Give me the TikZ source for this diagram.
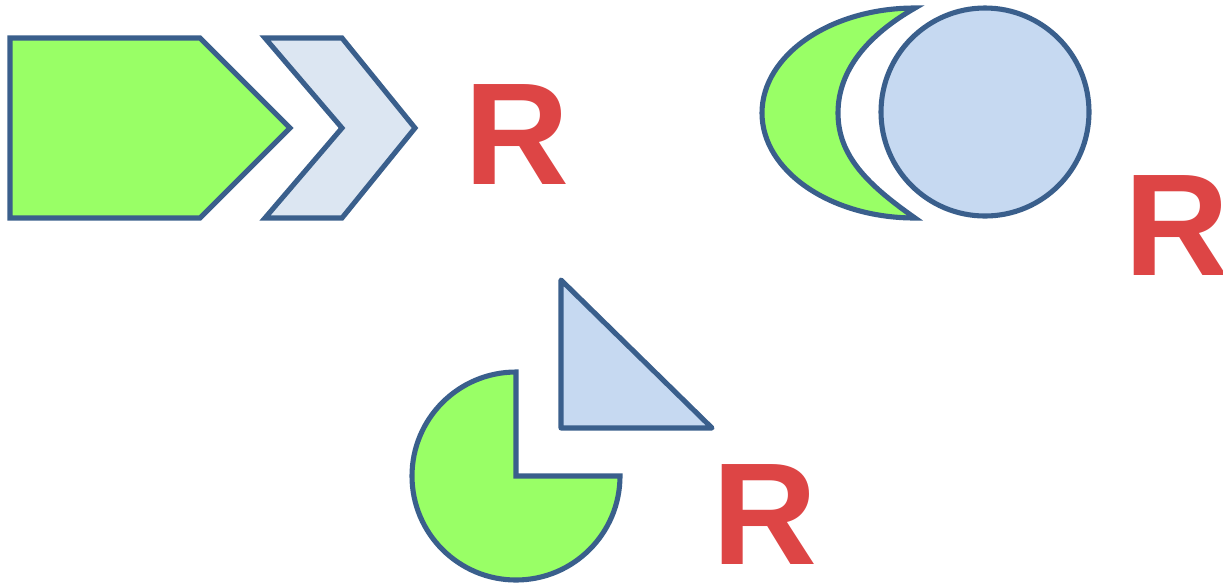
\documentclass[tikz,border=0pt]{standalone}
\usepackage{fontspec}
\usepackage{tikz}
\newfontfamily\letterfont{Liberation Sans}
\definecolor{shapeline}{HTML}{3A5F8C}
\definecolor{shapegreen}{HTML}{99FF66}
\definecolor{paleblue}{HTML}{DCE6F2}
\definecolor{lightblue}{HTML}{C6D9F1}
\definecolor{letterred}{HTML}{DD4545}

\begin{document}
\begin{tikzpicture}[x=0.02cm, y=-0.02cm,
		outline/.style={draw=shapeline, line width=2.9pt},
		bigR/.style={inner sep=0pt, text=letterred,
			font=\letterfont\bfseries\fontsize{82.7}{90}\selectfont}]
		\useasboundingbox (0,0) rectangle (1223,583);
		% pentagon and chevron
		\draw[outline, fill=shapegreen] (10,38) -- (200,38) -- (290,128) -- (200,218) -- (10,218) -- cycle;
		\draw[outline, fill=paleblue] (265,38) -- (342,38) -- (415,128) -- (342,218) -- (265,218) -- (342,128) -- cycle;
		\node[bigR] (rone) at (517,135) {R};
		% moon and circle
		\draw[outline, fill=shapegreen] (915,8) arc[start angle=-90, end angle=-270, x radius=153, y radius=105]
			.. controls (868,185) and (838,156) .. (838,113)
			.. controls (838,70) and (868,35) .. cycle;
		\draw[outline, fill=lightblue] (985,112) circle[radius=104];
		\node[bigR] (rtwo) at (1177,226) {R};
		% pie and triangle
		\draw[outline, fill=lightblue, line join=round] (561,280) -- (561,428) -- (712,428) -- cycle;
		\draw[outline, fill=shapegreen] (516,476) -- (516,372) arc[start angle=-90, end angle=-360, radius=104] -- cycle;
		\node[bigR] (rthree) at (765,514) {R};
	\end{tikzpicture}
\end{document}
